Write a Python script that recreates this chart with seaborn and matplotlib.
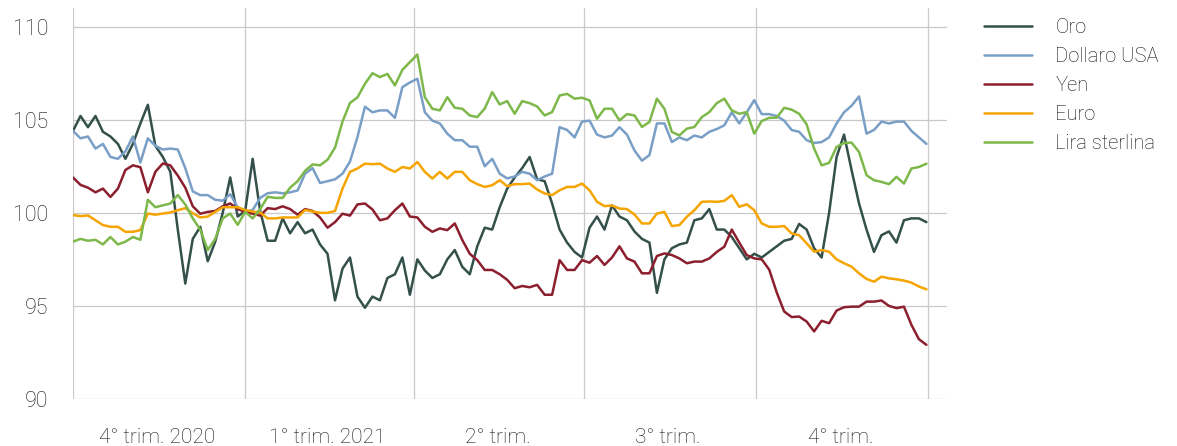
import pandas as pd
import matplotlib
matplotlib.use("Agg")
import matplotlib.pyplot as plt
import seaborn as sns

# dati, un punto ogni 4 giorni (1 ott 2020 - 31 dic 2021)
date = pd.date_range("2020-10-01", "2021-12-31", freq="4D")

oro = [104.4, 105.2, 104.6, 105.2, 104.35, 104.1, 103.7, 102.9, 103.7, 104.8,
       105.8, 103.6, 103.0, 102.2, 99.1, 96.2, 98.6, 99.25, 97.4, 98.45,
       100.0, 101.9, 99.8, 100.1, 102.9, 100.1, 98.5, 98.5, 99.7, 98.9,
       99.5, 98.9, 99.1, 98.3, 97.8, 95.3, 97.0, 97.6, 95.5, 94.9,
       95.5, 95.3, 96.5, 96.7, 97.6, 95.6, 97.5, 96.9, 96.5, 96.7,
       97.5, 98.0, 97.1, 96.7, 98.2, 99.2, 99.1, 100.3, 101.3, 101.9,
       102.4, 103.0, 101.8, 101.7, 100.5, 99.1, 98.4, 97.9, 97.6, 99.2,
       99.8, 99.1, 100.4, 99.8, 99.6, 99.0, 98.6, 98.4, 95.7, 97.5,
       98.1, 98.3, 98.4, 99.6, 99.7, 100.2, 99.1, 99.1, 98.7, 98.1,
       97.5, 97.8, 97.6, 97.9, 98.2, 98.5, 98.6, 99.4, 99.1, 98.1,
       97.6, 100.0, 103.0, 104.2, 102.3, 100.5, 99.1, 97.9, 98.8, 99.0,
       98.4, 99.6, 99.7, 99.7, 99.5]

dollaro = [104.4, 104.0, 104.1, 103.45, 103.7, 103.0, 102.9, 103.3, 104.1, 102.7,
           104.0, 103.6, 103.4, 103.45, 103.4, 102.4, 101.15, 100.95, 100.95, 100.7,
           100.65, 101.0, 100.3, 100.05, 100.15, 100.8, 101.05, 101.1, 101.05, 101.1,
           101.2, 102.1, 102.4, 101.6, 101.7, 101.8, 102.1, 102.75, 104.07, 105.7,
           105.4, 105.5, 105.5, 105.1, 106.75, 107.0, 107.2, 105.4, 104.95, 104.8,
           104.25, 103.9, 103.9, 103.55, 103.55, 102.5, 102.9, 102.1, 101.85, 101.95,
           102.2, 102.1, 101.75, 101.95, 102.1, 104.6, 104.45, 104.05, 104.9, 104.95,
           104.2, 104.05, 104.15, 104.6, 104.2, 103.35, 102.8, 103.1, 104.8, 104.8,
           103.8, 104.05, 103.9, 104.15, 104.05, 104.35, 104.5, 104.7, 105.4, 104.8,
           105.4, 106.05, 105.3, 105.3, 105.2, 104.95, 104.45, 104.35, 103.9, 103.75,
           103.8, 104.05, 104.8, 105.4, 105.75, 106.25, 104.25, 104.45, 104.9, 104.8,
           104.9, 104.9, 104.4, 104.05, 103.7]

yen = [101.9, 101.5, 101.35, 101.1, 101.3, 100.85, 101.3, 102.3, 102.55, 102.45,
       101.1, 102.2, 102.65, 102.55, 102.0, 101.35, 100.35, 99.95, 100.05, 100.1,
       100.35, 100.5, 100.2, 100.05, 99.95, 99.85, 100.25, 100.2, 100.35, 100.2,
       99.9, 100.2, 100.1, 99.75, 99.2, 99.5, 99.95, 99.85, 100.45, 100.5,
       100.18, 99.6, 99.7, 100.14, 100.5, 99.8, 99.75, 99.25, 98.98, 99.16,
       99.07, 99.43, 98.54, 97.8, 97.46, 96.93, 96.93, 96.7, 96.4, 95.95,
       96.07, 96.0, 96.13, 95.6, 95.6, 97.46, 96.93, 96.93, 97.46, 97.32,
       97.68, 97.2, 97.6, 98.2, 97.55, 97.38, 96.75, 96.75, 97.68, 97.82,
       97.73, 97.55, 97.29, 97.38, 97.38, 97.55, 97.9, 98.18, 99.1, 98.4,
       97.73, 97.55, 97.5, 96.95, 95.73, 94.7, 94.4, 94.43, 94.16, 93.63,
       94.2, 94.07, 94.75, 94.93, 94.96, 94.96, 95.23, 95.23, 95.29, 95.0,
       94.88, 94.96, 93.98, 93.21, 92.91]

euro = [99.88, 99.82, 99.86, 99.6, 99.34, 99.25, 99.25, 98.98, 98.98, 99.07,
        99.96, 99.9, 99.96, 100.02, 100.14, 100.25, 99.98, 99.75, 99.8, 100.05,
        100.3, 100.3, 100.3, 100.15, 100.07, 100.02, 99.7, 99.7, 99.75, 99.75,
        99.75, 100.15, 100.07, 100.0, 100.0, 100.1, 101.3, 102.2, 102.38, 102.64,
        102.61, 102.64, 102.38, 102.2, 102.46, 102.38, 102.73, 102.2, 101.84, 102.2,
        101.84, 102.2, 102.2, 101.75, 101.54, 101.39, 101.48, 101.75, 101.43, 101.54,
        101.54, 101.57, 101.25, 101.04, 100.95, 101.21, 101.39, 101.39, 101.57, 101.21,
        100.59, 100.36, 100.39, 100.23, 100.2, 99.91, 99.43, 99.43, 99.96, 100.05,
        99.29, 99.34, 99.79, 100.14, 100.59, 100.61, 100.59, 100.64, 100.95, 100.32,
        100.46, 100.14, 99.43, 99.25, 99.25, 99.29, 98.89, 98.8, 98.36, 97.91,
        98.0, 97.91, 97.5, 97.29, 97.11, 96.75, 96.45, 96.3, 96.57, 96.48,
        96.43, 96.36, 96.25, 96.04, 95.89]

sterlina = [98.45, 98.6, 98.5, 98.55, 98.3, 98.7, 98.3, 98.45, 98.7, 98.55,
            100.7, 100.3, 100.4, 100.5, 100.95, 100.45, 99.7, 99.1, 98.0, 98.6,
            99.7, 99.96, 99.35, 100.05, 99.7, 100.2, 100.86, 100.8, 100.8, 101.35,
            101.7, 102.25, 102.6, 102.55, 102.85, 103.5, 104.9, 105.9, 106.2, 106.93,
            107.5, 107.29, 107.46, 106.84, 107.68, 108.09, 108.5, 106.21, 105.59, 105.5,
            106.21, 105.64, 105.59, 105.23, 105.14, 105.6, 106.48, 105.82, 106.0, 105.32,
            106.0, 105.89, 105.71, 105.23, 105.41, 106.3, 106.39, 106.13, 106.18, 106.04,
            105.05, 105.59, 105.59, 104.96, 105.3, 105.23, 104.61, 104.88, 106.13, 105.59,
            104.34, 104.16, 104.52, 104.61, 105.14, 105.41, 105.89, 106.13, 105.5, 105.32,
            105.41, 104.25, 104.93, 105.1, 105.11, 105.64, 105.54, 105.32, 104.75, 103.45,
            102.55, 102.68, 103.54, 103.75, 103.77, 103.27, 102.02, 101.75, 101.66, 101.54,
            101.93, 101.57, 102.38, 102.46, 102.64]

nomi = ["Oro", "Dollaro USA", "Yen", "Euro", "Lira sterlina"]
colori = ["#34504A", "#7A9FC7", "#8C1F2E", "#F5A400", "#7DB84A"]

quarter_starts = ["2020-10-01", "2021-01-01", "2021-04-01", "2021-07-01",
                  "2021-10-01", "2022-01-01"]
quarter_mid = ["2020-11-15", "2021-02-14", "2021-05-16", "2021-08-15", "2021-11-15"]
quarter_labels = ["4° trim. 2020", "1° trim. 2021", "2° trim.", "3° trim.", "4° trim."]

df = pd.DataFrame({"data": date, "Oro": oro, "Dollaro USA": dollaro, "Yen": yen,
                   "Euro": euro, "Lira sterlina": sterlina})
df = df.melt(id_vars="data", var_name="serie", value_name="valore")

sns.set_theme(style="white")
plt.rcParams["font.family"] = ["Roboto", "DejaVu Sans"]
plt.rcParams["font.weight"] = "light"

grigio = "#C9C9C9"
testo = "#111111"

fig = plt.figure(figsize=(11.77, 4.46), dpi=100)
ax = fig.add_axes([73 / 1177, 47 / 446, (947 - 73) / 1177, (438 - 47) / 446])

sns.lineplot(data=df, x="data", y="valore", hue="serie", hue_order=nomi,
             palette=colori, linewidth=1.8, ax=ax)

ax.set_xlim(pd.Timestamp("2020-10-01"), pd.Timestamp("2022-01-11"))
ax.set_ylim(90, 111)
ax.set_yticks([90, 95, 100, 105, 110])

ax.set_xticks(pd.to_datetime(quarter_starts))
ax.set_xticklabels([])
ax.set_xticks(pd.to_datetime(quarter_mid), minor=True)
ax.set_xticklabels(quarter_labels, minor=True)

ax.grid(True, which="major", color=grigio, linewidth=0.9)
ax.set_axisbelow(True)
for s in ax.spines.values():
    s.set_visible(False)

ax.tick_params(axis="x", which="major", length=13, color=grigio, width=0.9)
ax.tick_params(axis="x", which="minor", length=0, pad=21, labelsize=15, labelcolor=testo)
ax.tick_params(axis="y", length=13, color=grigio, width=0.9, pad=5,
               labelsize=15.5, labelcolor=testo)
ax.set_xlabel("")
ax.set_ylabel("")

handles, labels = ax.get_legend_handles_labels()
ax.get_legend().remove()
leg = fig.legend(handles, labels, loc="upper left", bbox_to_anchor=(984 / 1177, 1 - 18 / 446),
                 frameon=False, fontsize=14.5, handlelength=2.4, handletextpad=1.15,
                 labelspacing=0.5, borderpad=0, borderaxespad=0)
for t in leg.get_texts():
    t.set_color(testo)

fig.savefig("out.png", dpi=100)
